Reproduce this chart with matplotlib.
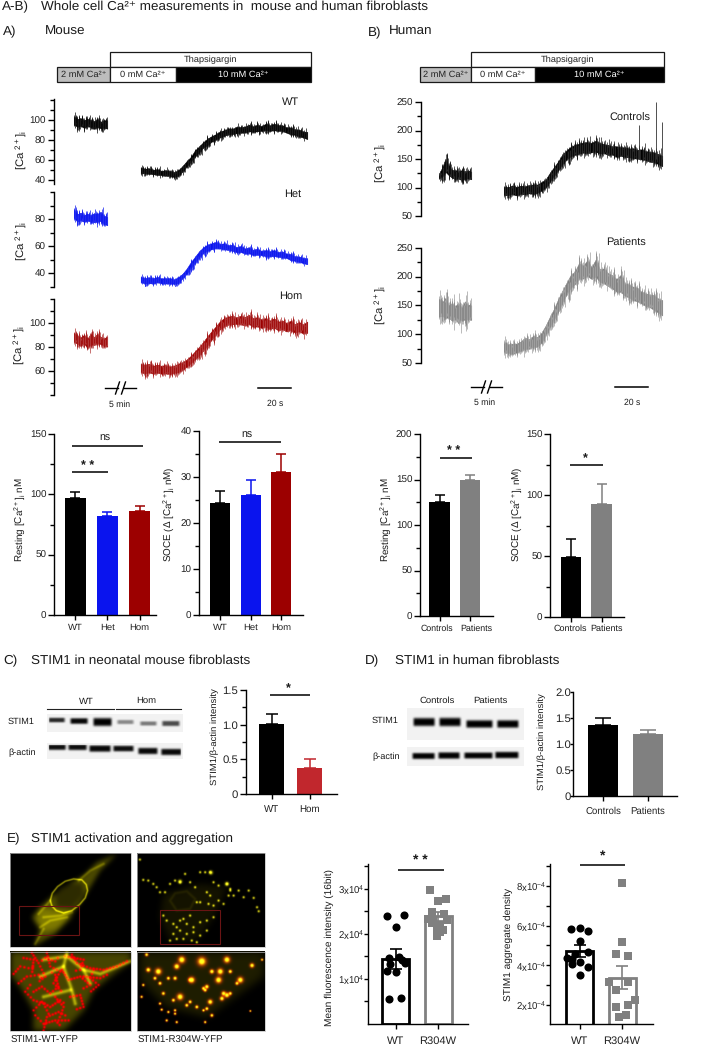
import numpy as np
import matplotlib
matplotlib.use("Agg")
import matplotlib.pyplot as plt
from matplotlib.patches import Rectangle
from matplotlib.path import Path

plt.rcParams['font.family'] = ['Liberation Sans', 'DejaVu Sans']
plt.rcParams['mathtext.default'] = 'regular'
plt.rcParams['axes.linewidth'] = 1.0
plt.rcParams['text.hinting'] = 'no_hinting'

W, H = 702, 1050
fig = plt.figure(figsize=(W / 100, H / 100), dpi=100)

# ---------- data: calcium traces (upper and lower edge of the noisy trace) ----------
T1_MOUSE = np.arange(11) * 2.0
T2_MOUSE = 40 + np.arange(41) * 2.5
T1_HUMAN = np.arange(11) * 1.94
T2_HUMAN = 39 + np.arange(39) * 2.5

WT_HI1 = [107, 104, 105, 103, 104, 103, 102, 104, 101, 103, 103]
WT_LO1 = [92, 90, 91, 89, 91, 90, 88, 90, 89, 89, 88]
WT_HI2 = [55, 53, 54, 52, 53, 51, 52, 51, 50, 52, 56, 61, 65, 72, 76, 80, 84, 86, 88, 91, 92, 94, 93, 96, 95, 96, 98, 96, 98, 96, 99, 97, 99, 97, 97, 95, 95, 93, 93, 91, 91]
WT_LO2 = [44, 45, 44, 44, 43, 43, 42, 42, 41, 42, 46, 51, 56, 61, 65, 70, 72, 76, 78, 80, 82, 83, 84, 84, 85, 85, 86, 86, 86, 87, 87, 87, 87, 87, 87, 85, 83, 83, 81, 80, 78]

HET_HI1 = [90, 86, 87, 85, 86, 85, 87, 86, 88, 85, 84]
HET_LO1 = [78, 76, 77, 76, 77, 76, 75, 76, 76, 74, 73]
HET_HI2 = [39, 38, 39, 38, 39, 38, 38, 38, 37, 39, 41, 45, 50, 54, 58, 61, 63, 64, 65, 63, 64, 62, 63, 61, 62, 60, 61, 59, 60, 58, 59, 58, 59, 57, 58, 56, 56, 54, 54, 53, 53]
HET_LO2 = [32, 31, 31, 31, 32, 31, 31, 31, 31, 31, 35, 38, 42, 46, 50, 53, 55, 56, 57, 57, 56, 56, 55, 54, 54, 53, 53, 52, 52, 52, 51, 51, 51, 51, 50, 50, 48, 48, 47, 46, 45]

HOM_HI1 = [95, 92, 91, 93, 90, 95, 91, 94, 91, 90, 92]
HOM_LO1 = [81, 80, 78, 80, 76, 78, 79, 80, 80, 78, 77]
HOM_HI2 = [69, 68, 69, 67, 68, 67, 68, 66, 67, 69, 70, 72, 75, 79, 83, 87, 92, 96, 100, 104, 107, 108, 109, 107, 109, 108, 110, 107, 108, 106, 107, 105, 107, 104, 105, 103, 105, 102, 104, 102, 105]
HOM_LO2 = [56, 55, 56, 55, 56, 55, 55, 55, 56, 56, 58, 61, 64, 67, 70, 74, 78, 83, 87, 92, 94, 96, 96, 97, 96, 95, 96, 94, 94, 93, 94, 92, 93, 91, 92, 90, 91, 89, 90, 88, 88]

CTRL_HI1 = [128, 142, 160, 145, 136, 137, 135, 137, 134, 136, 133]
CTRL_LO1 = [112, 112, 118, 115, 112, 108, 110, 106, 110, 110, 109]
CTRL_HI2 = [108, 106, 110, 107, 109, 108, 110, 112, 111, 116, 120, 132, 142, 152, 165, 172, 178, 182, 184, 186, 188, 185, 190, 186, 182, 182, 178, 180, 176, 178, 174, 176, 172, 174, 170, 170, 168, 166, 163]
CTRL_LO2 = [80, 81, 82, 80, 83, 82, 84, 82, 85, 88, 94, 104, 114, 124, 134, 142, 148, 150, 152, 154, 152, 155, 155, 152, 154, 150, 152, 146, 150, 146, 147, 144, 145, 142, 142, 138, 138, 134, 130]
CTRL_SPIKE_T = [120, 130, 134]
CTRL_SPIKE_TOP = [210, 250, 215]

PAT_HI1 = [175, 165, 177, 160, 165, 158, 168, 155, 170, 162, 160]
PAT_LO1 = [118, 122, 115, 120, 112, 118, 105, 118, 112, 116, 115]
PAT_HI2 = [95, 88, 91, 90, 94, 102, 98, 105, 102, 110, 122, 138, 152, 170, 184, 198, 212, 218, 235, 228, 240, 225, 242, 222, 225, 215, 212, 205, 215, 198, 195, 192, 190, 182, 180, 178, 178, 172, 170]
PAT_LO2 = [60, 62, 58, 62, 64, 66, 68, 70, 72, 78, 92, 104, 118, 130, 148, 160, 172, 178, 185, 188, 190, 188, 188, 182, 178, 175, 170, 165, 162, 158, 155, 150, 148, 145, 140, 138, 132, 128, 122]

# hand-set ragged edge of the noisy band, as a share of the band's height
EDGE_FUZZ = [0.18, -0.05, 0.12, 0.27, 0.02, 0.22, -0.1, 0.15, 0.3, 0.05, -0.02, 0.2, 0.1, 0.26, -0.08,
             0.16, 0.04, 0.24, 0.08, -0.12, 0.19, 0.28, 0.0, 0.13, 0.21, -0.06, 0.11, 0.25, 0.07]

# ---------- data: bars ----------
MOUSE_CATS = ['WT', 'Het', 'Hom']
HUMAN_CATS = ['Controls', 'Patients']
REST_M = [97, 82, 86]
REST_M_TOP = [102, 85.5, 90]
SOCE_M = [24.4, 26, 31]
SOCE_M_TOP = [27, 29.3, 35]
REST_H = [125, 149]
REST_H_TOP = [133, 155]
SOCE_H = [49.5, 93]
SOCE_H_TOP = [64, 109]
BLOT_CATS_C = ['WT', 'Hom']
BLOT_C = [1.01, 0.38]
BLOT_C_TOP = [1.16, 0.51]
BLOT_D = [1.36, 1.2]
BLOT_D_TOP = [1.5, 1.27]

E_CATS = ['WT', 'R304W']
MFI = [1.45e4, 2.39e4]
MFI_LOW = [1.23e4, 2.29e4]
MFI_TOP = [1.67e4, 2.49e4]
MFI_WT_X = [-0.19, 0.19, 0.0, -0.15, 0.08, 0.16, 0.23, -0.12, -0.19, 0.01, -0.15, 0.14]
MFI_WT_Y = [2.40e4, 2.41e4, 2.15e4, 1.47e4, 1.48e4, 1.43e4, 1.36e4, 1.34e4, 1.17e4, 1.16e4, 0.56e4, 0.58e4]
MFI_MUT_X = [-0.20, 0.0, 0.18, -0.15, 0.14, -0.23, -0.11, 0.05, 0.20, -0.15, -0.03, 0.12, -0.02, 0.05]
MFI_MUT_Y = [2.98e4, 2.73e4, 2.77e4, 2.49e4, 2.44e4, 2.34e4, 2.30e4, 2.19e4, 2.30e4, 2.23e4, 2.12e4, 2.08e4, 1.95e4, 2.05e4]
AGG = [4.73e-4, 3.37e-4]
AGG_LOW = [4.43e-4, 2.80e-4]
AGG_TOP = [5.03e-4, 3.95e-4]
AGG_WT_X = [-0.20, 0.0, 0.19, 0.0, 0.19, -0.10, -0.30, -0.18, 0.02, 0.19, -0.18, 0.0]
AGG_WT_Y = [5.83e-4, 5.90e-4, 5.71e-4, 5.22e-4, 4.68e-4, 4.59e-4, 4.39e-4, 4.34e-4, 4.17e-4, 3.92e-4, 4.05e-4, 3.53e-4]
AGG_MUT_X = [0.0, 0.0, -0.15, 0.15, -0.30, 0.15, -0.15, 0.30, 0.15, -0.15, -0.08, 0.10]
AGG_MUT_Y = [8.12e-4, 5.19e-4, 4.58e-4, 4.49e-4, 3.15e-4, 3.15e-4, 2.76e-4, 2.27e-4, 2.03e-4, 1.93e-4, 1.42e-4, 1.49e-4]

BLACK = '#000000'
BLUE = '#0a14ee'
RED = '#9c0000'
GRAY = '#808080'
CRED = '#c1272d'


# ---------- helpers ----------
def axpx(left, top, right, bottom):
    ax = fig.add_axes([left / W, 1 - bottom / H, (right - left) / W, (bottom - top) / H])
    ax.patch.set_alpha(0)
    ax.spines[['top', 'right']].set_visible(False)
    return ax


ov = axpx(0, 0, W, H)
ov.set_xlim(0, W)
ov.set_ylim(H, 0)
ov.axis('off')
ov.set_zorder(5)


def label(x, y, s, size=6.8, **kw):
    kw.setdefault('ha', 'center')
    kw.setdefault('va', 'center')
    ov.text(x, y, s, fontsize=size, color='#1a1a1a', **kw)


def trace_axes(left, top, bottom, v_top, v_bottom, t0_px, major, minor, right):
    ax = axpx(left, top, right, bottom)
    scale = 100 / 60.0  # px per second
    ax.set_xlim((left - t0_px) / scale, (right - t0_px) / scale)
    ax.set_ylim(v_bottom, v_top)
    ax.spines['bottom'].set_visible(False)
    ax.set_xticks([])
    ax.set_yticks(major)
    ax.set_yticks(minor, minor=True)
    ax.tick_params(axis='y', which='major', length=4.5, width=1.0, labelsize=7.1, pad=1.5, labelcolor='#222222')
    ax.tick_params(axis='y', which='minor', length=2.6, width=1.0)
    return ax


def draw_trace(ax, t1, hi1, lo1, t2, hi2, lo2, color, fringe):
    for t, hi, lo in [(t1, hi1, lo1), (t2, hi2, lo2)]:
        t, hi, lo = np.array(t), np.array(hi, float), np.array(lo, float)
        band = hi - lo
        n = len(EDGE_FUZZ)
        xs, y0, y1 = [], [], []
        for i in range(len(t) - 1):
            for j, f in enumerate((0.0, 0.25, 0.5, 0.75)):
                xs.append(t[i] + f * (t[i + 1] - t[i]))
                k = 4 * i + j
                y1.append(hi[i] - EDGE_FUZZ[k % n] * band[i] * 0.9)
                y0.append(lo[i] + EDGE_FUZZ[(k * 3 + 7) % n] * band[i] * 0.9)
        ax.vlines(xs, y0, y1, color=fringe, lw=0.55)
        ax.fill_between(t, lo + 0.22 * band, hi - 0.22 * band, color=color, lw=0.3)
        xs2 = [x for i, x in enumerate(xs) if i % 2 == 0]
        ax.vlines(xs2, [v + 0.1 * (hi.mean() - lo.mean()) for i, v in enumerate(y0) if i % 2 == 0],
                  [v - 0.1 * (hi.mean() - lo.mean()) for i, v in enumerate(y1) if i % 2 == 0], color=color, lw=0.5)


def bar_axes(left, top, right, bottom, c0, step, ymax, major, minor, ymin=0):
    ax = axpx(left, top, right, bottom)
    ax.set_xlim((left - c0) / step, (right - c0) / step)
    ax.set_ylim(ymin, ymax)
    ax.set_yticks(major)
    ax.set_yticks(minor, minor=True)
    ax.tick_params(axis='y', which='major', length=4.5, width=1.0, labelsize=7.1, pad=1, labelcolor='#222222')
    ax.tick_params(axis='y', which='minor', length=3.2, width=1.0)
    ax.tick_params(axis='x', length=3.6, width=1.0, labelsize=6.8, pad=2.5, labelcolor='#222222')
    return ax


def bars(ax, vals, tops, colors, cats, width_px, step, cap=3.5):
    xs = np.arange(len(vals))
    vals, tops = np.array(vals), np.array(tops)
    ax.bar(xs, vals, width=width_px / step, color=colors)
    for x, v, t, c in zip(xs, vals, tops, colors):
        ax.errorbar([x], [v], yerr=[[0], [t - v]], color=c, capsize=cap, elinewidth=1.1, capthick=1.1)
    ax.set_xticks(xs, cats)


def sig(ax, x0, x1, y):
    ax.plot([x0, x1], [y, y], color='black', lw=1.1, clip_on=False, solid_capstyle='butt')


def box(x0, y0, x1, y1, face, text=None, tcolor='#222222', size=6.7):
    ov.add_patch(Rectangle((x0, y0), x1 - x0, y1 - y0, fc=face, ec='#1a1a1a', lw=0.9))
    if text:
        ov.text((x0 + x1) / 2, (y0 + y1) / 2, text, fontsize=size, color=tcolor, ha='center', va='center')


def blur2(img, sigma):
    if sigma <= 0:
        return img
    r = int(3 * sigma) + 1
    k = np.exp(-0.5 * (np.arange(-r, r + 1) / sigma) ** 2)
    k /= k.sum()
    out = np.apply_along_axis(lambda m: np.convolve(m, k, mode='same'), 0, img)
    return np.apply_along_axis(lambda m: np.convolve(m, k, mode='same'), 1, out)


def blot(x0, y0, x1, y1, bands, bg=0.95):
    sc = 3
    nx, ny = int((x1 - x0) * sc), int((y1 - y0) * sc)
    xx, yy = np.meshgrid(np.linspace(x0, x1, nx), np.linspace(y0, y1, ny))
    img = np.full((ny, nx), float(bg))
    for bx0, bx1, by, th, dark in bands:
        prof_x = np.clip((xx - bx0) / 3.0, 0, 1) * np.clip((bx1 - xx) / 3.0, 0, 1)
        prof_y = np.exp(-((yy - by) / th) ** 4)
        img -= dark * prof_x * prof_y
    img = blur2(img, 1.5)
    pad = int(3 * 1.5) + 2
    img[:pad, :] = np.maximum(img[:pad, :], bg)
    img[-pad:, :] = np.maximum(img[-pad:, :], bg)
    img[:, :pad] = np.maximum(img[:, :pad], bg)
    img[:, -pad:] = np.maximum(img[:, -pad:], bg)
    ov.imshow(np.clip(img, 0, 1), extent=(x0, x1, y1, y0), cmap='gray', vmin=0, vmax=1, aspect='auto', interpolation='bilinear')
    ov.set_xlim(0, W)
    ov.set_ylim(H, 0)


def photo(zx0, zy0, zx1, zy1, polys=(), strokes=(), spots=(), beads=()):
    """Soft stand-in for a micrograph; all coordinates are px*3 in the E crop (origin 0, 820)."""
    step = 1.5
    xs = np.arange(zx0, zx1, step)
    ys = np.arange(zy0, zy1, step)
    xx, yy = np.meshgrid(xs, ys)
    img = np.zeros(xx.shape + (3,))
    pts = np.c_[xx.ravel(), yy.ravel()]
    for verts, rgb, sig_ in polys:
        mask = Path(verts).contains_points(pts).reshape(xx.shape).astype(float)
        mask = blur2(mask, sig_ / step)
        for c in range(3):
            img[..., c] += rgb[c] * mask
    for path, rgb, sig_ in strokes:
        d2 = np.full(xx.shape, 1e9)
        for (ax_, ay_), (bx_, by_) in zip(path[:-1], path[1:]):
            dx, dy = bx_ - ax_, by_ - ay_
            u = np.clip(((xx - ax_) * dx + (yy - ay_) * dy) / (dx * dx + dy * dy), 0, 1)
            d2 = np.minimum(d2, (xx - ax_ - u * dx) ** 2 + (yy - ay_ - u * dy) ** 2)
        g = np.exp(-d2 / (2 * sig_ ** 2))
        for c in range(3):
            img[..., c] += rgb[c] * g
    for x, y, sig_, rgb in spots:
        g = np.exp(-((xx - x) ** 2 + (yy - y) ** 2) / (2 * sig_ ** 2))
        for c in range(3):
            img[..., c] += rgb[c] * g
    for path in beads:
        for (ax_, ay_), (bx_, by_) in zip(path[:-1], path[1:]):
            n = max(1, int(np.hypot(bx_ - ax_, by_ - ay_) / 9))
            for f in np.arange(n) / n:
                x = ax_ + f * (bx_ - ax_)
                y = ay_ + f * (by_ - ay_)
                g = np.exp(-((xx - x) ** 2 + (yy - y) ** 2) / (2 * 2.6 ** 2))
                img[..., 0] += 0.95 * g
                img[..., 1] -= 0.4 * g
    ov.imshow(np.clip(img, 0, 1), extent=(zx0 / 3, zx1 / 3, 820 + zy1 / 3, 820 + zy0 / 3), aspect='auto', interpolation='bilinear')
    ov.set_xlim(0, W)
    ov.set_ylim(H, 0)


# ---------- headings ----------
HS = 9.7
label(2, 10, 'A-B)', size=HS, ha='left', va='baseline')
label(41, 10, 'Whole cell Ca²⁺ measurements in  mouse and human fibroblasts', size=HS, ha='left', va='baseline')
label(3, 35, 'A)', size=HS, ha='left', va='baseline')
label(45, 35, 'Mouse', size=HS, ha='left', va='baseline')
label(368, 36, 'B)', size=HS, ha='left', va='baseline')
label(389, 35, 'Human', size=HS, ha='left', va='baseline')
label(3, 664, 'C)', size=HS, ha='left', va='baseline')
label(31, 664, 'STIM1 in neonatal mouse fibroblasts', size=HS, ha='left', va='baseline')
label(365, 664, 'D)', size=HS, ha='left', va='baseline')
label(395, 664, 'STIM1 in human fibroblasts', size=HS, ha='left', va='baseline')
label(7, 842, 'E)', size=HS, ha='left', va='baseline')
label(31, 842, 'STIM1 activation and aggregation', size=HS, ha='left', va='baseline')

# ---------- protocol bars ----------
box(110, 52, 311, 67, 'white', 'Thapsigargin')
box(57, 67, 110, 82, '#bdbdbd', '2 mM Ca²⁺')
box(110, 67, 176, 82, 'white', '0 mM Ca²⁺')
box(176, 67, 311, 82, 'black', '10 mM Ca²⁺', tcolor='white')
box(471, 52, 664, 67, 'white', 'Thapsigargin')
box(420, 67, 471, 82, '#bdbdbd', '2 mM Ca²⁺')
box(471, 67, 535, 82, 'white', '0 mM Ca²⁺')
box(535, 67, 664, 82, 'black', '10 mM Ca²⁺', tcolor='white')

# ---------- traces ----------
a = trace_axes(54, 99, 184, 121, 36, 74, [40, 60, 80, 100], [50, 70, 90, 110, 120], 320)
draw_trace(a, T1_MOUSE, WT_HI1, WT_LO1, T2_MOUSE, WT_HI2, WT_LO2, BLACK, '#222222')
a = trace_axes(54, 192, 287, 100, 30, 74, [40, 60, 80], [30, 50, 70, 90, 100], 320)
draw_trace(a, T1_MOUSE, HET_HI1, HET_LO1, T2_MOUSE, HET_HI2, HET_LO2, BLUE, '#2a34f0')
a = trace_axes(54, 299, 395, 120, 40, 74, [60, 80, 100], [40, 50, 70, 90, 110, 120], 320)
draw_trace(a, T1_MOUSE, HOM_HI1, HOM_LO1, T2_MOUSE, HOM_HI2, HOM_LO2, RED, '#b84a4a')
a = trace_axes(421, 102, 216, 250, 50, 439, [50, 100, 150, 200, 250], [75, 125, 175, 225], 680)
draw_trace(a, T1_HUMAN, CTRL_HI1, CTRL_LO1, T2_HUMAN, CTRL_HI2, CTRL_LO2, BLACK, '#333333')
a.vlines(CTRL_SPIKE_T, 150, CTRL_SPIKE_TOP, color='#333333', lw=0.6)
a = trace_axes(421, 248, 363, 250, 50, 439, [50, 100, 150, 200, 250], [75, 125, 175, 225], 680)
draw_trace(a, T1_HUMAN, PAT_HI1, PAT_LO1, T2_HUMAN, PAT_HI2, PAT_LO2, GRAY, '#a8a8a8')

label(291, 102, 'WT', size=7.9)
label(293, 194, 'Het', size=7.9)
label(291, 296, 'Hom', size=7.9)
label(630, 118, 'Controls', size=7.9)
label(626, 243, 'Patients', size=7.9)
CA = '[Ca $^{2+}$]$_{i}$'
label(22, 150, CA, size=8.2, rotation=90)
label(22, 241, CA, size=8.2, rotation=90)
label(20, 345, CA, size=8.2, rotation=90)
label(381, 163, CA, size=8.2, rotation=90)
label(381, 305, CA, size=8.2, rotation=90)

for x0, x1, y in [(105, 136, 388), (471, 502, 387)]:
    mid = (x0 + x1) / 2
    ov.plot([x0, mid - 3], [y, y], 'k', lw=1.0)
    ov.plot([mid + 3, x1], [y, y], 'k', lw=1.0)
    ov.plot([mid - 5, mid - 1], [y + 6, y - 6], 'k', lw=1.0)
    ov.plot([mid + 1, mid + 5], [y + 6, y - 6], 'k', lw=1.0)
ov.plot([258, 291], [388, 388], 'k', lw=1.1)
ov.plot([615, 648], [387, 387], 'k', lw=1.1)
label(120, 405, '5 min', size=6.2)
label(275, 404, '20 s', size=6.2)
label(485, 403, '5 min', size=6.2)
label(632, 403, '20 s', size=6.2)

# ---------- bars A/B ----------
a = bar_axes(54, 434, 156, 615, 75, 32.3, 150, [0, 50, 100, 150], [25, 75, 125])
bars(a, REST_M, REST_M_TOP, [BLACK, BLUE, RED], MOUSE_CATS, 21, 32.3)
sig(a, -0.1, 2.1, 140)
sig(a, -0.09, 1.02, 118.5)
label(105, 438, 'ns', size=7.6)
label(88, 466, '* *', size=9, fontweight='bold')
label(20, 520, 'Resting [Ca$^{2+}$]$_{i}$ nM', size=7.1, rotation=90)

a = bar_axes(199, 431, 303, 615, 220, 30.7, 40, [0, 10, 20, 30, 40], [5, 15, 25, 35])
bars(a, SOCE_M, SOCE_M_TOP, [BLACK, BLUE, RED], MOUSE_CATS, 20, 30.7)
sig(a, -0.04, 2.0, 37.6)
label(247, 435, 'ns', size=7.6)
label(169, 514, 'SOCE ($\\Delta$ [Ca$^{2+}$]$_{i}$ nM)', size=7.1, rotation=90)

a = bar_axes(420, 434, 493, 616, 439.5, 30.5, 200, [0, 50, 100, 150, 200], [25, 75, 125, 175])
bars(a, REST_H, REST_H_TOP, [BLACK, GRAY], ['', ''], 20.5, 30.5)
label(437, 629, HUMAN_CATS[0], size=6.3)
label(476, 629, HUMAN_CATS[1], size=6.4)
sig(a, 0, 1.05, 174)
label(454, 451, '* *', size=9, fontweight='bold')
label(386, 520, 'Resting [Ca$^{2+}$]$_{i}$ nM', size=7.1, rotation=90)

a = bar_axes(550, 434, 624, 617, 571, 30.5, 150, [0, 50, 100, 150], [25, 75, 125])
bars(a, SOCE_H, SOCE_H_TOP, [BLACK, GRAY], ['', ''], 20.5, 30.5)
label(570, 629, HUMAN_CATS[0], size=6.5)
label(607, 629, HUMAN_CATS[1], size=6.5)
sig(a, -0.03, 1.05, 124.5)
label(585, 459, '*', size=9, fontweight='bold')
label(517, 514, 'SOCE ($\\Delta$ [Ca$^{2+}$]$_{i}$ nM)', size=7.1, rotation=90)

# ---------- blots ----------
C_STIM = [(47, 66, 720, 2.4, 0.8), (69, 89, 721, 3.0, 0.93), (92, 113, 722, 4.2, 0.95),
          (116, 135, 722, 2.2, 0.42), (139, 158, 723.5, 2.2, 0.48), (161, 181, 723.5, 2.7, 0.66)]
C_ACTIN = [(46, 67, 747, 3.0, 0.9), (67, 88, 747, 3.2, 0.9), (88, 112, 748.5, 3.4, 0.92),
           (112, 135, 748.5, 3.0, 0.9), (137, 159, 751, 3.3, 0.92), (160, 183, 752, 3.3, 0.92)]
blot(47, 714, 183, 732, C_STIM)
blot(47, 743, 183, 759, C_ACTIN)
ov.plot([47, 114], [709, 709], color='#222222', lw=0.8)
ov.plot([116, 181], [709, 709], color='#222222', lw=0.8)
label(86, 702, 'WT', size=6.8)
label(146, 701, 'Hom', size=6.8)
label(21, 722, 'STIM1', size=6.6)
label(22, 753, 'β-actin', size=6.6)

D_STIM = [(412, 436, 722, 4.2, 0.95), (438, 462, 722, 4.4, 0.95), (465, 494, 724, 3.9, 0.95), (496, 520, 724, 3.9, 0.95)]
D_ACTIN = [(411, 436, 756, 3.2, 0.95), (437, 461, 755.5, 3.4, 0.95), (463, 494, 755.5, 3.2, 0.95), (494, 520, 755, 3.4, 0.95)]
blot(407, 708, 524, 740, D_STIM, bg=0.95)
blot(407, 747, 524, 766, D_ACTIN, bg=0.95)
label(437, 701, 'Controls', size=6.8)
label(490, 701, 'Patients', size=6.8)
label(385, 721, 'STIM1', size=6.6)
label(386, 757, 'β-actin', size=6.6)

a = bar_axes(246, 690, 337, 794, 271.5, 38, 1.5, [0, 0.5, 1.0, 1.5], [0.25, 0.75, 1.25])
bars(a, BLOT_C, BLOT_C_TOP, [BLACK, CRED], BLOT_CATS_C, 25, 38, cap=4.5)
a.set_yticks([0, 0.5, 1.0, 1.5], ['0', '0.5', '1.0', '1.5'])
a.tick_params(axis='y', which='major', labelsize=8.2)
a.tick_params(axis='x', labelsize=7.0, pad=4)
sig(a, -0.04, 1.01, 1.43)
label(288, 689, '*', size=9, fontweight='bold')
label(215, 737, 'STIM1/β-actin intensity', size=6.8, rotation=90)

a = bar_axes(573, 692, 677, 796, 603, 45, 2.0, [0, 0.5, 1.0, 1.5, 2.0], [])
bars(a, BLOT_D, BLOT_D_TOP, [BLACK, GRAY], HUMAN_CATS, 30, 45, cap=6)
a.set_yticks([0, 0.5, 1.0, 1.5, 2.0], ['0', '0.5', '1.0', '1.5', '2.0'])
a.tick_params(axis='y', which='major', labelsize=8.2, length=2.5, pad=-1)
a.tick_params(axis='x', labelsize=6.9, pad=4)
label(542, 742, 'STIM1/β-actin intensity', size=6.8, rotation=90)

# ---------- panel E micrographs ----------
Y1 = (0.95, 0.92, 0.1)
TL_CELL = [(350, 100), (290, 125), (250, 165), (180, 205), (130, 250), (95, 290), (120, 325), (100, 378), (130, 360),
           (165, 340), (200, 300), (245, 240), (270, 200), (300, 150)]
TL_RING = [(150, 240), (156, 218), (172, 198), (195, 182), (220, 175), (245, 178), (258, 192), (262, 210), (255, 232),
           (238, 252), (215, 270), (190, 277), (168, 270), (155, 256), (150, 240)]
TL_FIBRES = [[(130, 290), (180, 285), (215, 275)], [(120, 320), (150, 300), (200, 290)], [(235, 180), (270, 150), (310, 130)],
             [(105, 370), (130, 325)], [(150, 240), (115, 280)]]
photo(30, 98, 393, 380,
      polys=[(TL_CELL, (0.3, 0.29, 0.0), 7),
             ([(120, 260), (205, 275), (215, 290), (170, 325), (130, 335), (105, 300)], (0.2, 0.19, 0), 9),
             ([(165, 215), (205, 190), (245, 190), (250, 220), (215, 262), (170, 260)], (-0.12, -0.12, 0), 6)],
      strokes=[(TL_RING, (0.6, 0.58, 0.03), 1.7)] + [(p, (0.22, 0.21, 0.0), 3) for p in TL_FIBRES])

TR_X = [420, 430, 445, 460, 470, 480, 495, 510, 525, 540, 555, 570, 585, 600, 615, 630, 640, 655, 680, 690, 700, 715, 730, 745, 760, 770, 775,
        620, 630, 625, 640, 655, 670, 685, 690, 600, 590, 570, 550, 540, 520, 500, 490, 530, 560, 580, 600, 620, 640, 520, 540, 560, 580, 600, 620, 550, 575, 510, 590, 530]
TR_Y = [117, 178, 180, 190, 200, 215, 215, 190, 180, 185, 160, 185, 200, 155, 155, 155, 185, 195, 190, 210, 225, 210, 230, 210, 232, 260, 272,
        215, 225, 250, 255, 240, 250, 225, 205, 245, 245, 285, 295, 300, 310, 300, 285, 320, 310, 320, 305, 300, 290, 340, 330, 340, 335, 345, 330, 355, 360, 360, 365, 355]
photo(412, 98, 794, 380,
      polys=[([(490, 220), (600, 190), (680, 200), (640, 290), (590, 360), (510, 360), (480, 290)], (0.08, 0.075, 0), 10)],
      strokes=[([(510, 240), (525, 218), (560, 212), (585, 235), (570, 265), (530, 270), (510, 240)], (0.07, 0.065, 0), 3)],
      spots=[(x, y, 2.4, Y1) for x, y in zip(TR_X, TR_Y)] + [(540, 183, 4, Y1), (680, 190, 4, Y1), (632, 156, 4, Y1)])

BL_YELLOW = [[(200, 400), (190, 440), (215, 510), (225, 550)], [(130, 420), (200, 410), (250, 450), (300, 462), (390, 425)],
             [(250, 450), (270, 490)], [(120, 470), (190, 440)], [(130, 530), (210, 510)]]
BL_RED = [[(95, 400), (115, 430), (135, 415), (165, 425), (180, 405)], [(40, 462), (60, 440), (85, 445), (110, 440)],
          [(55, 490), (80, 470), (115, 465), (130, 480)], [(100, 515), (125, 500), (150, 520), (175, 500), (165, 465), (145, 450)],
          [(215, 405), (230, 430), (270, 445), (310, 450), (350, 440), (390, 420)], [(250, 470), (300, 475), (330, 460)],
          [(185, 450), (205, 480), (240, 470), (270, 495), (240, 510)], [(210, 530), (240, 525), (250, 560), (220, 570)],
          [(100, 570), (125, 545), (150, 560), (180, 540), (200, 555)], [(105, 585), (130, 610), (165, 600), (185, 620)],
          [(130, 630), (140, 590), (175, 575), (205, 590)], [(120, 440), (135, 470), (110, 490)],
          [(140, 400), (150, 440), (180, 455), (160, 490), (190, 520)], [(90, 495), (75, 515), (100, 540), (130, 550), (150, 590)],
          [(195, 410), (250, 420), (240, 450), (215, 455)], [(280, 450), (270, 475), (295, 495), (265, 520)],
          [(70, 415), (100, 420), (95, 465)], [(165, 530), (190, 560), (175, 600), (215, 600)]]
photo(30, 395, 393, 632,
      polys=[([(32, 397), (392, 397), (392, 425), (330, 470), (280, 510), (250, 570), (190, 630), (100, 630), (100, 570), (60, 500), (32, 465)], (0.28, 0.27, 0), 9)],
      strokes=[(p, (0.42, 0.41, 0.03), 4) for p in BL_YELLOW],
      beads=BL_RED)

BR_X = [440, 445, 475, 465, 430, 425, 530, 545, 575, 605, 620, 660, 680, 755, 785, 720, 710, 635, 655, 690, 670, 610, 570, 525, 505, 480, 490,
        540, 615, 630, 620, 520, 560, 570, 590, 610, 635, 665, 690, 680, 480, 485, 505, 525, 500, 530, 615, 525, 750]
BR_Y = [405, 450, 455, 475, 495, 530, 440, 420, 480, 425, 500, 455, 420, 437, 420, 480, 490, 455, 480, 455, 520, 505, 480, 475, 475, 490, 520,
        530, 510, 545, 565, 540, 555, 545, 560, 570, 585, 535, 520, 525, 550, 568, 575, 580, 600, 605, 605, 570, 572]
BR_S = [8, 14, 30, 8, 5, 5, 22, 35, 26, 55, 12, 28, 30, 14, 4, 26, 8, 14, 30, 10, 14, 8, 10, 10, 8, 8, 8,
        30, 8, 18, 8, 8, 8, 8, 8, 5, 8, 14, 8, 18, 5, 5, 5, 5, 5, 5, 5, 5, 3]
br_spots = []
for x, y, s in zip(BR_X, BR_Y, BR_S):
    r = np.sqrt(s) * 1.25
    br_spots.append((x, y, r, (1.2, 0.2, 0.0)))
    br_spots.append((x, y, r * 0.6, (0.1, 1.2, 0.15)))
photo(412, 395, 794, 632,
      polys=[([(420, 397), (790, 397), (790, 470), (690, 540), (620, 590), (500, 560), (420, 480)], (0.12, 0.115, 0), 12)],
      spots=br_spots)

for zx0, zy0, zx1, zy1 in [(30, 98, 393, 380), (412, 98, 794, 380), (30, 395, 393, 632), (412, 395, 794, 632)]:
    ov.add_patch(Rectangle((zx0 / 3, 820 + zy0 / 3), (zx1 - zx0) / 3, (zy1 - zy0) / 3, fc='none', ec='#bbbbbb', lw=0.5))
for zx0, zy0, zw, zh in [(58, 258, 179, 87), (480, 270, 180, 103)]:
    ov.add_patch(Rectangle((zx0 / 3, 820 + zy0 / 3), zw / 3, zh / 3, fc='none', ec='#6a1414', lw=0.8))

label(11, 1040, 'STIM1-WT-YFP', size=6.9, ha='left')
label(138, 1040, 'STIM1-R304W-YFP', size=6.9, ha='left')


# ---------- panel E bars ----------
def e_bars(ax, vals, lows, tops, xw, yw, xm, ym, width_px, step):
    xs = np.arange(2)
    ax.bar(xs, vals, width=width_px / step, fc='none', ec=[BLACK, GRAY], lw=2.0, zorder=2)
    ax.scatter(xw, yw, s=34, c=BLACK, marker='o', zorder=3, linewidths=0, clip_on=False)
    ax.scatter(np.array(xm) + 1, ym, s=34, c=GRAY, marker='s', zorder=3, linewidths=0, clip_on=False)
    for x, v, l, t, c in zip(xs, vals, lows, tops, [BLACK, GRAY]):
        ax.errorbar([x], [v], yerr=[[v - l], [t - v]], color=c, capsize=4.5, elinewidth=1.2, capthick=1.2, zorder=4)
    ax.set_xticks(xs, E_CATS)
    ax.tick_params(axis='x', labelsize=8, pad=5, length=3.6)


a = bar_axes(368, 864, 468, 1024, 395.5, 42.5, 3.55e4, [1e4, 2e4, 3e4], [0.5e4, 1.5e4, 2.5e4, 3.5e4])
a.set_yticks([1e4, 2e4, 3e4], ['1x10$^{4}$', '2x10$^{4}$', '3x10$^{4}$'])
a.tick_params(axis='y', which='major', labelsize=6.9, length=3.2, pad=-1)
e_bars(a, MFI, MFI_LOW, MFI_TOP, MFI_WT_X, MFI_WT_Y, MFI_MUT_X, MFI_MUT_Y, 27, 42.5)
sig(a, 0.05, 1.13, 3.41e4)
label(420, 860, '* *', size=10, fontweight='bold')
label(329, 948, 'Mean fluorescence intensity (16bit)', size=7.3, rotation=90)

a = bar_axes(550, 864, 653, 1024, 579.5, 42.5, 9.1e-4, [2e-4, 4e-4, 6e-4, 8e-4], [3e-4, 5e-4, 7e-4, 9e-4], ymin=1.05e-4)
a.set_yticks([2e-4, 4e-4, 6e-4, 8e-4], ['2x10$^{-4}$', '4x10$^{-4}$', '6x10$^{-4}$', '8x10$^{-4}$'])
a.tick_params(axis='y', which='major', labelsize=6.9, length=3.2, pad=-1)
e_bars(a, AGG, AGG_LOW, AGG_TOP, AGG_WT_X, AGG_WT_Y, AGG_MUT_X, AGG_MUT_Y, 27, 42.5)
sig(a, 0, 1.08, 9.03e-4)
label(603, 857, '*', size=10, fontweight='bold')
label(508, 944, 'STIM1 aggregate density', size=7.3, rotation=90)

ov.set_xlim(0, W)
ov.set_ylim(H, 0)
fig.savefig('out.png', dpi=100)
